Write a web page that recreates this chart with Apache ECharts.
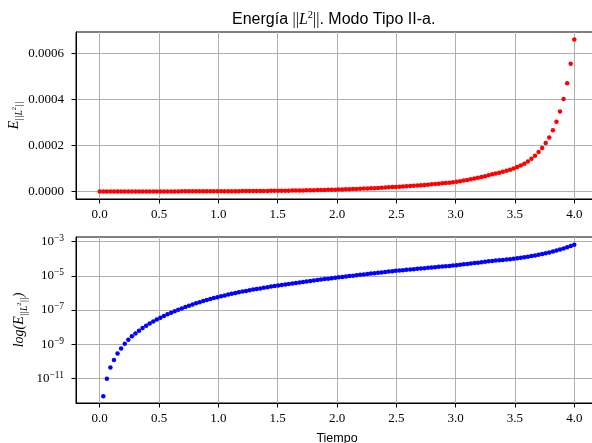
<!DOCTYPE html>
<html><head><meta charset="utf-8">
<script src="https://cdn.jsdelivr.net/npm/echarts@6/dist/echarts.min.js"></script>
<style>html,body{margin:0;padding:0;background:#fff;overflow:hidden}#c{width:592px;height:443px}</style>
</head><body><div id="c"></div>
<script>
const time = [0, 0.030, 0.060, 0.090, 0.120, 0.150, 0.180, 0.211, 0.241, 0.271, 0.301, 0.331, 0.361, 0.391, 0.421, 0.451, 0.481, 0.511, 0.541, 0.571, 0.602, 0.632, 0.662, 0.692, 0.722, 0.752, 0.782, 0.812, 0.842, 0.872, 0.902, 0.932, 0.962, 0.992, 1.023, 1.053, 1.083, 1.113, 1.143, 1.173, 1.203, 1.233, 1.263, 1.293, 1.323, 1.353, 1.383, 1.414, 1.444, 1.474, 1.504, 1.534, 1.564, 1.594, 1.624, 1.654, 1.684, 1.714, 1.744, 1.774, 1.805, 1.835, 1.865, 1.895, 1.925, 1.955, 1.985, 2.015, 2.045, 2.075, 2.105, 2.135, 2.165, 2.195, 2.226, 2.256, 2.286, 2.316, 2.346, 2.376, 2.406, 2.436, 2.466, 2.496, 2.526, 2.556, 2.586, 2.617, 2.647, 2.677, 2.707, 2.737, 2.767, 2.797, 2.827, 2.857, 2.887, 2.917, 2.947, 2.977, 3.008, 3.038, 3.068, 3.098, 3.128, 3.158, 3.188, 3.218, 3.248, 3.278, 3.308, 3.338, 3.368, 3.398, 3.429, 3.459, 3.489, 3.519, 3.549, 3.579, 3.609, 3.639, 3.669, 3.699, 3.729, 3.759, 3.789, 3.820, 3.850, 3.880, 3.910, 3.940, 3.970, 4.000];

const energy = [0,
  8.91e-13, 9.55e-12, 4.27e-11, 1.18e-10, 2.88e-10, 5.62e-10, 1.07e-9, 1.82e-9, 2.88e-9, 4.27e-9,
  6.17e-9, 8.71e-9, 1.20e-8, 1.62e-8, 2.14e-8, 2.75e-8, 3.55e-8, 4.47e-8, 5.62e-8, 6.92e-8,
  8.51e-8, 1.02e-7, 1.23e-7, 1.51e-7, 1.78e-7, 2.09e-7, 2.45e-7, 2.88e-7, 3.31e-7, 3.80e-7,
  4.37e-7, 5.01e-7, 5.62e-7, 6.31e-7, 7.08e-7, 7.94e-7, 8.81e-7, 9.77e-7, 1.08e-6, 1.19e-6,
  1.30e-6, 1.43e-6, 1.57e-6, 1.70e-6, 1.84e-6, 2.00e-6, 2.16e-6, 2.34e-6, 2.51e-6, 2.69e-6,
  2.88e-6, 3.09e-6, 3.31e-6, 3.55e-6, 3.80e-6, 4.07e-6, 4.37e-6, 4.68e-6, 5.01e-6, 5.37e-6,
  5.75e-6, 6.10e-6, 6.46e-6, 6.84e-6, 7.24e-6, 7.67e-6, 8.13e-6, 8.61e-6, 9.12e-6, 9.66e-6,
  1.02e-5, 1.08e-5, 1.15e-5, 1.21e-5, 1.27e-5, 1.35e-5, 1.42e-5, 1.50e-5, 1.58e-5, 1.66e-5,
  1.76e-5, 1.86e-5, 1.95e-5, 2.04e-5, 2.14e-5, 2.24e-5, 2.34e-5, 2.45e-5, 2.57e-5, 2.66e-5,
  2.79e-5, 2.92e-5, 3.05e-5, 3.20e-5, 3.35e-5, 3.51e-5, 3.63e-5, 3.80e-5, 3.98e-5, 4.17e-5,
  4.42e-5, 4.68e-5, 4.95e-5, 5.25e-5, 5.56e-5, 5.89e-5, 6.24e-5, 6.61e-5, 7.00e-5, 7.40e-5,
  7.75e-5, 8.12e-5, 8.52e-5, 8.95e-5, 9.42e-5, 9.95e-5, 1.055e-4, 1.12e-4, 1.20e-4, 1.30e-4,
  1.42e-4, 1.55e-4, 1.71e-4, 1.88e-4, 2.10e-4, 2.34e-4, 2.66e-4, 3.02e-4, 3.47e-4, 4.01e-4,
  4.69e-4, 5.54e-4, 6.59e-4];

const xTicks = [0, 0.5, 1.0, 1.5, 2.0, 2.5, 3.0, 3.5, 4.0];
const yTicksLin = [0, 0.0002, 0.0004, 0.0006];
const yTicksLog = [1e-11, 1e-9, 1e-7, 1e-5, 1e-3];

if (time.length !== energy.length) throw new Error('length mismatch ' + time.length + ' ' + energy.length);

const serif = 'Liberation Serif';
const sans = 'Liberation Sans';
const gridLine = {show: true, lineStyle: {color: '#b0b0b0', width: 1}};
const tick = (vals) => ({show: true, inside: false, length: 4.5, customValues: vals, lineStyle: {color: '#000', width: 1}});
const axLine = {show: true, onZero: false, lineStyle: {color: '#000', width: 1}};

function xAxis(gi, name) {
  return {
    type: 'value', gridIndex: gi, min: -0.2, max: 4.2,
    axisLine: axLine, axisTick: tick(xTicks), splitLine: gridLine,
    axisLabel: {customValues: xTicks, formatter: v => v.toFixed(1), fontFamily: serif, fontSize: 13, color: '#000', margin: 9},
    name: name || '', nameLocation: 'middle', nameGap: 29, nameMoveOverlap: false,
    nameTextStyle: {fontFamily: sans, fontSize: 12.5, color: '#000', verticalAlign: 'top'}
  };
}

const topPts = time.map((t, i) => [t, energy[i]]);
const botPts = time.map((t, i) => [t, energy[i]]).filter(p => p[1] > 0);

const subRich = {
  e: {fontFamily: serif, fontStyle: 'italic', fontSize: 14, color: '#000', verticalAlign: 'middle', lineHeight: 20},
  t: {fontFamily: serif, fontStyle: 'italic', fontSize: 14, color: '#000', verticalAlign: 'middle', lineHeight: 20},
  sb: {fontFamily: serif, fontStyle: 'italic', fontSize: 9.5, color: '#000', verticalAlign: 'bottom'},
  ss: {fontFamily: serif, fontSize: 6.5, color: '#000', verticalAlign: 'middle'}
};

const gridBase = {show: true, borderColor: '#000', borderWidth: 1, backgroundColor: 'transparent', outerBoundsMode: 'none', containLabel: false};

const option = {
  animation: false,
  backgroundColor: '#fff',
  title: {
    left: 232, top: 10, padding: 0,
    text: '{n|Energía }{m|||}{i|L}{p|2}{m|||}{n|. Modo Tipo II-a.}',
    textStyle: {
      fontWeight: 'normal',
      rich: {
        n: {fontFamily: sans, fontSize: 16, fontWeight: 'normal', color: '#000', verticalAlign: 'middle', lineHeight: 20},
        m: {fontFamily: serif, fontSize: 16, fontWeight: 'normal', color: '#000', verticalAlign: 'middle'},
        i: {fontFamily: serif, fontStyle: 'italic', fontWeight: 'normal', fontSize: 16, color: '#000', verticalAlign: 'middle'},
        p: {fontFamily: serif, fontSize: 10.5, fontWeight: 'normal', color: '#000', verticalAlign: 'top'}
      }
    }
  },
  grid: [
    Object.assign({left: 76, top: 32, width: 522, height: 167}, gridBase),
    Object.assign({left: 76, top: 237, width: 522, height: 166}, gridBase)
  ],
  xAxis: [xAxis(0), xAxis(1, 'Tiempo')],
  yAxis: [
    {
      type: 'value', gridIndex: 0, min: -0.000033, max: 0.000692,
      axisLine: axLine, axisTick: tick(yTicksLin), splitLine: gridLine,
      axisLabel: {customValues: yTicksLin, formatter: v => v.toFixed(4), fontFamily: serif, fontSize: 13, color: '#000', margin: 12},
      name: '{e|E}{sb|||L}{ss|2}{sb|||}', nameLocation: 'middle', nameRotate: 90, nameGap: 52, nameMoveOverlap: false,
      nameTextStyle: {rich: subRich}
    },
    {
      type: 'log', logBase: 10, gridIndex: 1, min: Math.pow(10, -12.44), max: Math.pow(10, -2.73),
      axisLine: axLine, axisTick: tick(yTicksLog), splitLine: gridLine,
      axisLabel: {
        customValues: yTicksLog,
        formatter: v => '{b|10}{s|\u2212' + Math.abs(Math.round(Math.log10(v))) + '}',
        margin: 12,
        rich: {
          b: {fontFamily: serif, fontSize: 13, color: '#000', verticalAlign: 'middle', lineHeight: 16},
          s: {fontFamily: serif, fontSize: 9.5, color: '#000', verticalAlign: 'top'}
        }
      },
      name: '{t|log(}{e|E}{sb|||L}{ss|2}{sb|||}{t|)}', nameLocation: 'middle', nameRotate: 90, nameGap: 47, nameMoveOverlap: false,
      nameTextStyle: {rich: subRich}
    }
  ],
  series: [
    {type: 'scatter', xAxisIndex: 0, yAxisIndex: 0, data: topPts, symbol: 'circle', symbolSize: 4.5, itemStyle: {color: '#ff0000', opacity: 1}, silent: true},
    {type: 'scatter', xAxisIndex: 1, yAxisIndex: 1, data: botPts, symbol: 'circle', symbolSize: 4.5, itemStyle: {color: '#0000ff', opacity: 1}, silent: true}
  ]
};
const chart = echarts.init(document.getElementById('c'), null, {renderer: 'canvas'});
chart.setOption(option);
</script>
</body></html>
